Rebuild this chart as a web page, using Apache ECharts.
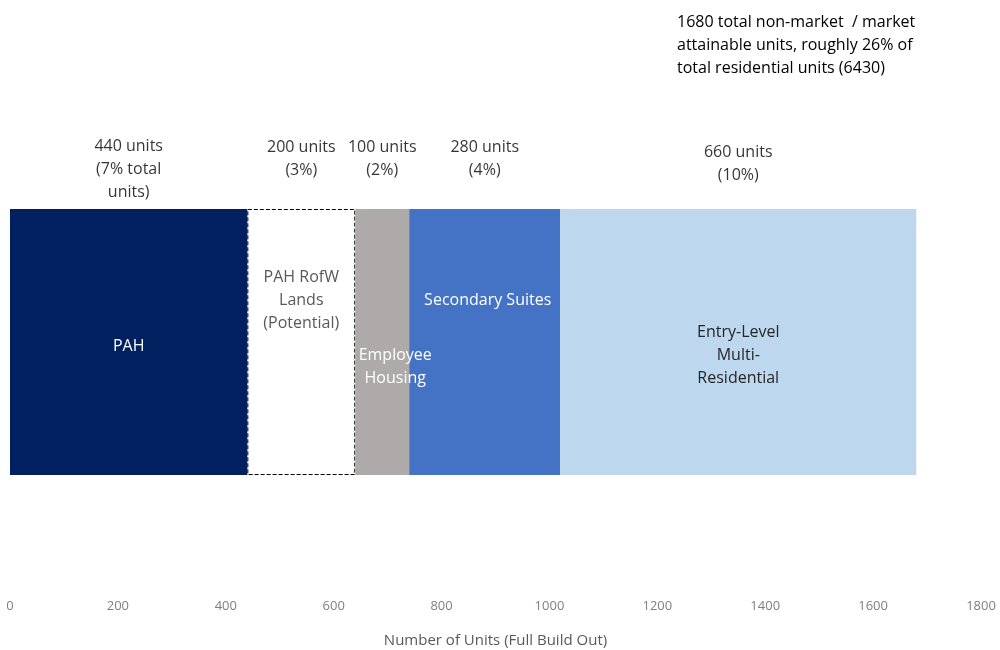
<!DOCTYPE html>
<html>
<head>
<meta charset="utf-8">
<script src="https://cdn.jsdelivr.net/npm/echarts@6/dist/echarts.min.js"></script>
<style>
  html, body { margin: 0; padding: 0; background: #fff; }
  #chart { width: 1000px; height: 650px; }
</style>
</head>
<body>
<div id="chart"></div>
<script>
// segments of the single stacked bar
const segments = ['PAH', 'PAH RofW\nLands\n(Potential)', 'Employee\nHousing', 'Secondary Suites', 'Entry-Level\nMulti-\nResidential'];
const units = [440, 200, 100, 280, 660];
const topLabels = ['440 units\n(7% total\nunits)', '200 units\n(3%)', '100 units\n(2%)', '280 units\n(4%)', '660 units\n(10%)'];
const xTicks = [0, 1800, 200];

// look of each segment
const colors = ['#002060', '#ffffff', '#AEAAAA', '#4472C4', '#BDD7EE'];
const textColors = ['#ffffff', '#595959', '#ffffff', '#ffffff', '#262626'];
const innerOffsets = [[0, 4], [0, -42], [13, 25], [3, -42], [0, 13]];
const topDistances = [138, 160, 160, 160, 155];

const FONT = 'Open Sans';
const cat = 'Units';

let chart = echarts.init(document.getElementById('chart'));

let series = segments.map((name, i) => ({
  name: name,
  type: 'bar',
  stack: 'total',
  barWidth: '100%',
  data: [units[i]],
  itemStyle: i === 1
    ? { color: colors[i], borderColor: '#000', borderWidth: 1, borderType: 'dashed' }
    : { color: colors[i] },
  label: {
    show: true,
    position: 'inside',
    formatter: name,
    color: textColors[i],
    fontFamily: FONT,
    fontSize: 16,
    lineHeight: 23,
    offset: innerOffsets[i]
  },
  emphasis: { disabled: true }
}));

// labels above each segment, placed at the middle of the segment
let start = 0;
let topData = units.map((v, i) => {
  let item = {
    value: [start + v / 2, cat],
    label: { formatter: topLabels[i], distance: topDistances[i], color: '#000' }
  };
  start += v;
  return item;
});

series.push({
  type: 'scatter',
  symbolSize: 0,
  data: topData,
  label: {
    show: true,
    position: 'top',
    color: '#000',
    fontFamily: FONT,
    fontSize: 16,
    lineHeight: 23,
    align: 'center'
  },
  silent: true,
  z: 5
});

let options = {
  animation: false,
  title: {
    text: '1680 total non-market  / market\nattainable units, roughly 26% of\ntotal residential units (6430)',
    left: 672,
    top: 6,
    textStyle: { fontFamily: FONT, fontSize: 16, fontWeight: 'normal', color: '#000', lineHeight: 23 }
  },
  grid: { left: 10, right: 19, top: 209, bottom: 175, containLabel: false },
  xAxis: {
    type: 'value',
    min: xTicks[0],
    max: xTicks[1],
    interval: xTicks[2],
    axisLine: { show: false },
    axisTick: { show: false },
    splitLine: { show: false },
    axisLabel: { margin: 125, color: '#7f7f7f', fontFamily: FONT, fontSize: 13, formatter: v => String(v) },
    name: 'Number of Units (Full Build Out)',
    nameLocation: 'middle',
    nameGap: 158,
    nameTextStyle: { color: '#595959', fontFamily: FONT, fontSize: 15 }
  },
  yAxis: {
    type: 'category',
    data: [cat],
    show: false
  },
  series: series
};

chart.setOption(options);
</script>
</body>
</html>
